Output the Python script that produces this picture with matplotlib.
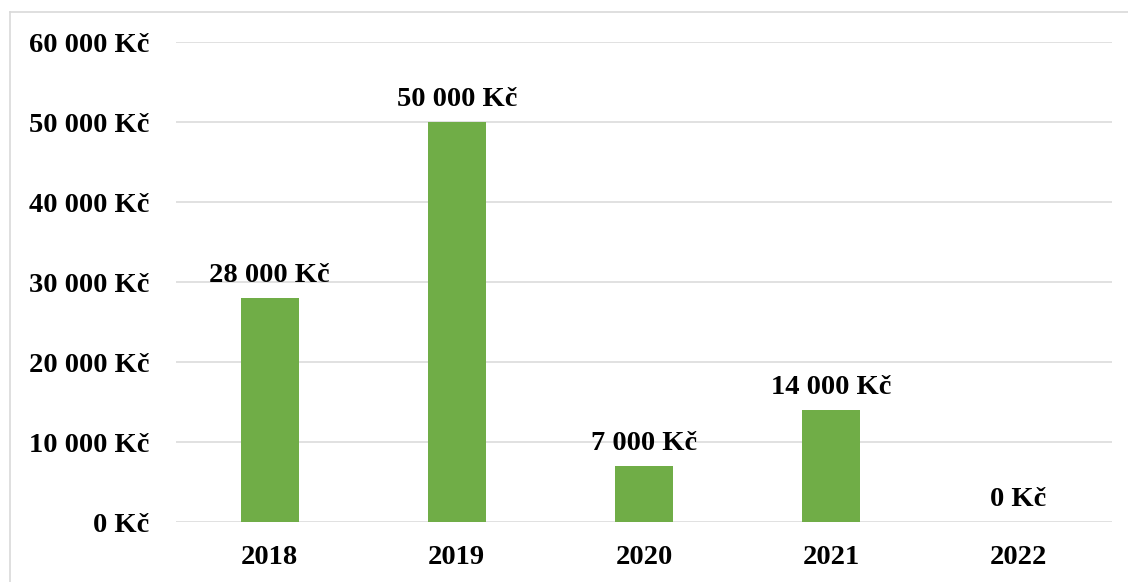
import matplotlib
matplotlib.use("Agg")
import matplotlib.pyplot as plt
from matplotlib.ticker import FuncFormatter, MultipleLocator
from matplotlib.lines import Line2D

years = ["2018", "2019", "2020", "2021", "2022"]
amounts = [28000, 50000, 7000, 14000, 0]

def kc(v):
    return f"{int(round(v)):,}".replace(",", " ") + " Kč"

plt.rcParams['font.family'] = ['Liberation Serif', 'DejaVu Serif']
plt.rcParams['font.weight'] = 'bold'

fig = plt.figure(figsize=(11.28, 5.82), dpi=100)
ax = fig.add_axes([176/1128, 1-522/582, (1112-176)/1128, (522-42)/582])

x = range(len(years))
bars = ax.bar(x, amounts, width=0.31, color="#70AD47", zorder=3)

ax.set_xlim(-0.5, len(years) - 0.5)
ax.set_ylim(0, 60000)
ax.yaxis.set_major_locator(MultipleLocator(10000))
ax.yaxis.set_major_formatter(FuncFormatter(lambda v, p: kc(v)))
ax.set_xticks(list(x))
ax.set_xticklabels(years)

ax.grid(axis="y", color="#D9D9D9", linewidth=1.1, zorder=0)
for s in ax.spines.values():
    s.set_visible(False)
ax.tick_params(axis="both", length=0, labelsize=20.5)
ax.tick_params(axis="y", pad=19)
ax.tick_params(axis="x", pad=16.5)
for lbl in ax.get_xticklabels() + ax.get_yticklabels():
    lbl.set_fontweight("bold")

for b, v in zip(bars, amounts):
    ax.annotate(kc(v), (b.get_x() + b.get_width()/2, v), xytext=(0, 7),
                textcoords="offset points", ha="center", va="bottom",
                fontsize=20.5, fontweight="bold")

# figure border (top and left visible)
fig.add_artist(Line2D([10/1128, 10/1128], [0, 1-12/582], transform=fig.transFigure,
                      color="#D9D9D9", linewidth=1.2))
fig.add_artist(Line2D([10/1128, 1], [1-12/582, 1-12/582], transform=fig.transFigure,
                      color="#D9D9D9", linewidth=1.2))

fig.savefig("out.png", dpi=100)
